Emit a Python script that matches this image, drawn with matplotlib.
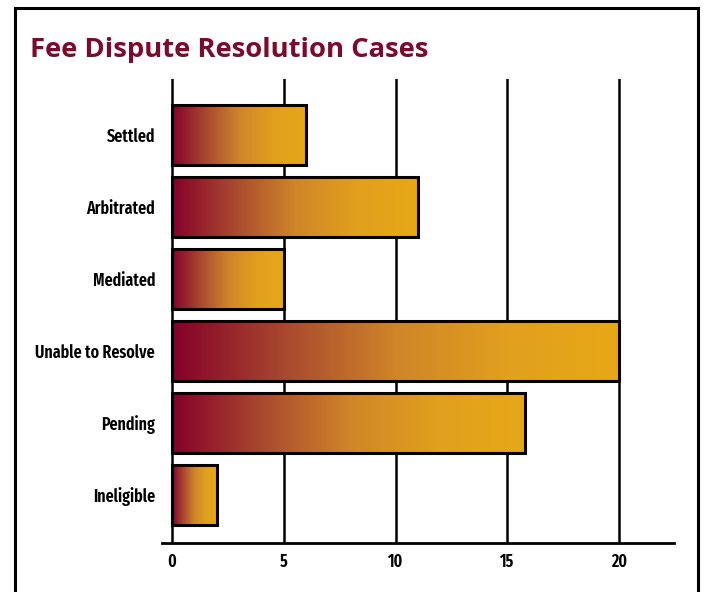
import matplotlib
matplotlib.use("Agg")
import matplotlib.pyplot as plt
import numpy as np
from matplotlib.colors import LinearSegmentedColormap
from matplotlib.patches import Rectangle

categories = ["Settled", "Arbitrated", "Mediated", "Unable to Resolve", "Pending", "Ineligible"]
values = [6, 11, 5, 20, 15.8, 2]
xticks = [0, 5, 10, 15, 20]
title = "Fee Dispute Resolution Cases"

label_font = ["Fira Sans Extra Condensed", "DejaVu Sans"]
title_font = ["Open Sans", "DejaVu Sans"]

cmap = LinearSegmentedColormap.from_list(
    "grad", ["#85002A", "#A8482F", "#CF8529", "#E1A01E", "#E6A817"])

fig = plt.figure(figsize=(7.04, 5.92), dpi=100)
W, H = 704, 592
ax = fig.add_axes([162 / W, 1 - 543 / H, (674 - 162) / W, (543 - 79) / H])

n = len(categories)
ypos = np.arange(n)[::-1]
bh = 0.833

for x in xticks:
    ax.axvline(x, color="black", lw=1.8, zorder=1)

grad = np.linspace(0, 1, 256).reshape(1, -1)
for y, v in zip(ypos, values):
    ax.imshow(grad, cmap=cmap, aspect="auto",
              extent=[0, v, y - bh / 2, y + bh / 2], zorder=2,
              interpolation="bilinear")
    ax.add_patch(Rectangle((0, y - bh / 2), v, bh, facecolor="none",
                           edgecolor="black", lw=2.2, zorder=3))

ax.set_xlim(-0.45, 22.45)
ax.set_ylim(-0.667, n - 1 + 0.78)

for s in ["top", "right", "left"]:
    ax.spines[s].set_visible(False)
ax.spines["bottom"].set_linewidth(2)
ax.spines["bottom"].set_zorder(4)

fs = 12.5
ax.set_xticks(xticks)
ax.set_xticklabels([str(t) for t in xticks], fontfamily=label_font,
                   fontweight=600, fontsize=fs)
ax.tick_params(axis="x", length=0, pad=7)
ax.set_yticks(ypos)
ax.set_yticklabels(categories, fontfamily=label_font,
                   fontweight=600, fontsize=fs)
ax.tick_params(axis="y", length=0, pad=5)

fig.text(30 / W, 1 - 50 / H, title, fontfamily=title_font, fontweight="bold",
         fontsize=19.7, color="#7D0A2D", va="center", ha="left")

frame = Rectangle((15 / W, -0.05), (698 - 15) / W, 1.05 - 8 / H,
                  transform=fig.transFigure, facecolor="none",
                  edgecolor="black", lw=2.2)
fig.patches.append(frame)

fig.savefig("out.png", dpi=100)
